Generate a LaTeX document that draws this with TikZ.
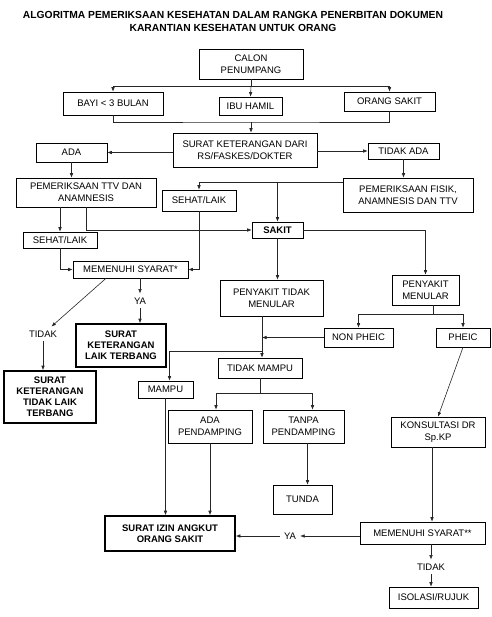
\documentclass[tikz,border=0pt]{standalone}
\usepackage{fontspec}
\setmainfont{Liberation Sans}
\usetikzlibrary{arrows.meta}

\begin{document}
\begin{tikzpicture}[x=1pt,y=-1pt,>={Latex[length=4.5pt,width=3.6pt]},
  font=\fontsize{9.5}{11.7}\selectfont,
  box/.style={draw,align=center,inner sep=1pt,line width=0.6pt},
  result/.style={box,line width=1.6pt,font=\fontsize{9.5}{11}\selectfont\bfseries},
  lbl/.style={inner sep=4pt},
  arr/.style={->,line width=0.6pt,black!85},
  ln/.style={line width=0.6pt,black!85}]
\useasboundingbox (0,0) rectangle (491,617);
\node[align=center,font=\fontsize{10.3}{13}\selectfont\bfseries] (title) at (233,21.5)
  {ALGORITMA PEMERIKSAAN KESEHATAN DALAM RANGKA PENERBITAN DOKUMEN\\KARANTIAN KESEHATAN UNTUK ORANG};
\node[box,minimum width=104pt,minimum height=30pt] (calon) at (251,64) {CALON\\PENUMPANG};
\node[box,minimum width=100pt,minimum height=23pt] (bayi) at (113,103.5) {BAYI < 3 BULAN};
\node[box,minimum width=63pt,minimum height=18pt] (ibu) at (250.5,106) {IBU HAMIL};
\node[box,minimum width=91pt,minimum height=19pt] (orang) at (389.5,101.5) {ORANG SAKIT};
\node[box,minimum width=144pt,minimum height=34pt] (surat) at (245,150) {SURAT KETERANGAN DARI\\RS/FASKES/DOKTER};
\node[box,minimum width=71pt,minimum height=19pt] (ada) at (71.5,152.5) {ADA};
\node[box,minimum width=71pt,minimum height=16pt] (tidakada) at (403.5,151) {TIDAK ADA};
\node[box,minimum width=140pt,minimum height=29pt] (ttv) at (86,192.5) {PEMERIKSAAN TTV DAN\\ANAMNESIS};
\node[box,minimum width=130pt,minimum height=34pt] (fisik) at (408,195) {PEMERIKSAAN FISIK,\\ANAMNESIS DAN TTV};
\node[box,minimum width=74pt,minimum height=21pt] (sehatR) at (199,200.5) {SEHAT/LAIK};
\node[box,minimum width=51pt,minimum height=16pt,font=\fontsize{9.5}{11.7}\selectfont\bfseries] (sakit) at (277.5,230) {SAKIT};
\node[box,minimum width=74pt,minimum height=16pt] (sehatL) at (60,240) {SEHAT/LAIK};
\node[box,minimum width=115pt,minimum height=17pt] (syarat1) at (130.5,269.5) {MEMENUHI SYARAT*};
\node[lbl] (ya1) at (140,301) {YA};
\node[lbl] (tidak1) at (43,334) {TIDAK};
\node[result,minimum width=90pt,minimum height=43pt] (laik) at (121,345.5) {SURAT\\KETERANGAN\\LAIK TERBANG};
\node[result,minimum width=92pt,minimum height=52pt] (tidaklaik) at (50,397) {SURAT\\KETERANGAN\\TIDAK LAIK\\TERBANG};
\node[box,minimum width=103pt,minimum height=36pt] (ptm) at (271.5,298) {PENYAKIT TIDAK\\MENULAR};
\node[box,minimum width=67pt,minimum height=30pt] (pm) at (425.5,290) {PENYAKIT\\MENULAR};
\node[box,minimum width=69pt,minimum height=19pt] (nonpheic) at (358.5,337.5) {NON PHEIC};
\node[box,minimum width=54pt,minimum height=19pt] (pheic) at (463,337.5) {PHEIC};
\node[box,minimum width=84pt,minimum height=20pt] (tidakmampu) at (260,368) {TIDAK MAMPU};
\node[box,minimum width=55pt,minimum height=17pt] (mampu) at (165.5,389.5) {MAMPU};
\node[box,minimum width=84pt,minimum height=33pt] (adap) at (210,426.5) {ADA\\PENDAMPING};
\node[box,minimum width=81pt,minimum height=33pt] (tanpa) at (303.5,426.5) {TANPA\\PENDAMPING};
\node[box,minimum width=59pt,minimum height=29pt] (tunda) at (302.5,499.5) {TUNDA};
\node[box,minimum width=94pt,minimum height=30pt] (konsul) at (438,432) {KONSULTASI DR\\Sp.KP};
\node[box,minimum width=125pt,minimum height=22pt] (syarat2) at (422.5,533) {MEMENUHI SYARAT**};
\node[lbl] (ya2) at (290,536) {YA};
\node[result,minimum width=130pt,minimum height=35pt] (izin) at (170,533.5) {SURAT IZIN ANGKUT\\ORANG SAKIT};
\node[lbl] (tidak2) at (431,567) {TIDAK};
\node[box,minimum width=89pt,minimum height=21pt] (isolasi) at (433.5,597.5) {ISOLASI/RUJUK};
\coordinate (j1) at (251,86);
\coordinate (j2) at (251,122);
\coordinate (f1) at (343,182);
\coordinate (m1) at (433,314);
\coordinate (k1) at (262,351);
\coordinate (k2) at (260,393);
\draw[ln] (calon.south) -- (j1);
\draw[arr] (j1) -| (bayi.north); \draw[arr] (j1) -- (ibu.north); \draw[arr] (j1) -| (orang.north);
\draw[ln] (bayi.south) |- (j2) -| (orang.south);
\draw[arr] (j2) -- (j2 |- surat.north);
\draw[arr] (surat.west |- ada) -- (ada.east);
\draw[arr] (surat.east |- tidakada) -- (tidakada.west);
\draw[arr] (ada) -- (ada |- ttv.north);
\draw[arr] (tidakada) -- (tidakada |- fisik.north);
\draw[arr] (f1) -| (sehatR.north); \draw[arr] (f1 -| sakit) -- (sakit.north);
\draw[arr] (sehatL.north |- ttv.south) -- (sehatL.north);
\draw[arr] (ttv.south) |- (sakit.west);
\draw[arr] (sehatL.south) |- (syarat1.west);
\draw[arr] (sehatR.south) |- (syarat1.east);
\draw[arr] (syarat1.south -| ya1) -- (ya1); \draw[arr] (ya1) -- (ya1 |- laik.north);
\draw[arr] ([xshift=-24.5pt]syarat1.south) -- (tidak1);
\draw[arr] (tidak1) -- (tidak1 |- tidaklaik.north);
\draw[arr] (sakit.south) -- (sakit.south |- ptm.north);
\draw[arr] (sakit.east) -| (pm.north);
\draw[ln] (m1 |- pm.south) -- (m1);
\draw[arr] (m1) -| (nonpheic.north); \draw[arr] (m1) -| (pheic.north);
\draw[arr] (ptm.south -| k1) -- (k1 |- tidakmampu.north);
\draw[arr] (nonpheic.west) -- (nonpheic.west -| k1);
\draw[arr] (k1) -| ([xshift=4pt]mampu.north);
\draw[ln] (tidakmampu.south) -- (k2);
\draw[arr] (k2) -| ([xshift=6pt]adap.north); \draw[arr] (k2) -| ([xshift=9pt]tanpa.north);
\draw[arr] ([xshift=4pt]tanpa.south) -- ([xshift=4pt]tanpa.south |- tunda.north);
\draw[arr] (pheic.south) -- (konsul.north);
\draw[arr] ([xshift=-6pt]konsul.south) -- ([xshift=-6pt]konsul.south |- syarat2.north);
\draw[arr] (syarat2.west |- ya2) -- (ya2); \draw[arr] (ya2) -- (ya2 -| izin.east);
\draw[arr] (syarat2.south -| tidak2) -- (tidak2); \draw[arr] (tidak2) -- (tidak2 |- isolasi.north);
\draw[arr] (mampu.south) -- (mampu.south |- izin.north);
\draw[arr] (adap.south) -- (adap.south |- izin.north);
\end{tikzpicture}
\end{document}
